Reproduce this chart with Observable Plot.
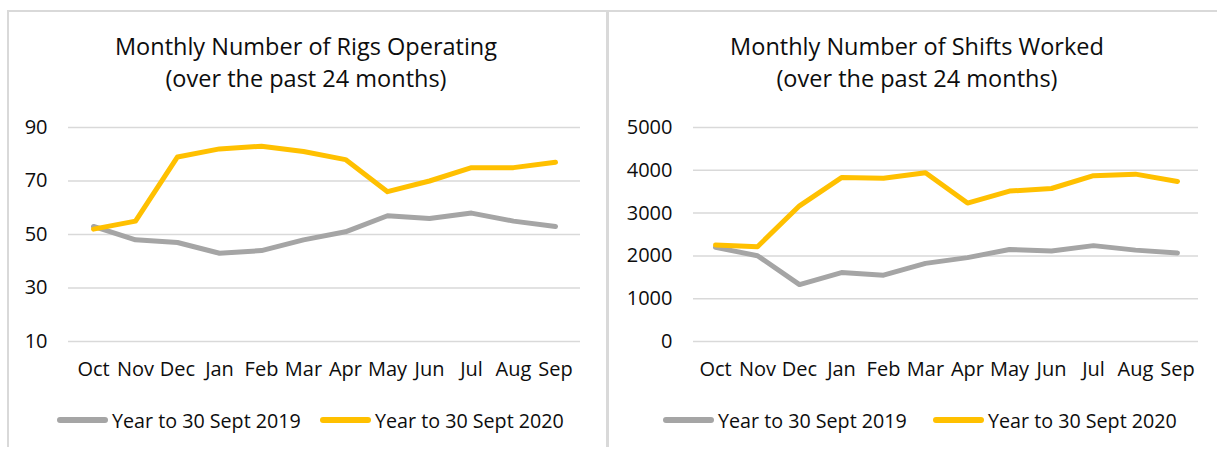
<!DOCTYPE html>
<html>
<head>
<meta charset="utf-8">
<script src="https://cdn.jsdelivr.net/npm/d3@7"></script>
<script src="https://cdn.jsdelivr.net/npm/@observablehq/plot@0.6"></script>
<style>
  html, body { margin: 0; padding: 0; background: #fff; }
  body { width: 1217px; height: 449px; position: relative; overflow: hidden; font-family: "Open Sans", sans-serif; color: #0d0d0d; }
  .border { position: absolute; background: #d9d9d9; }
  .title { position: absolute; width: 520px; text-align: center; font-size: 23.5px; line-height: 32px; color: #0d0d0d; white-space: nowrap; }
  .leg { position: absolute; top: 407px; height: 26px; display: flex; align-items: center; font-size: 19.7px; color: #0d0d0d; white-space: nowrap; }
  .sw { width: 51px; height: 5.5px; border-radius: 3px; margin-right: 4px; }
</style>
</head>
<body>
<script>
const months = ["Oct","Nov","Dec","Jan","Feb","Mar","Apr","May","Jun","Jul","Aug","Sep"];
const seriesNames = ["Year to 30 Sept 2019", "Year to 30 Sept 2020"];
const seriesColors = ["#a5a5a5", "#ffc000"];

const rigs2019 = [53, 48, 47, 43, 44, 48, 51, 57, 56, 58, 55, 53];
const rigs2020 = [52, 55, 79, 82, 83, 81, 78, 66, 70, 75, 75, 77];
const rigTicks = [10, 30, 50, 70, 90];

const shifts2019 = [2200, 2005, 1330, 1610, 1550, 1825, 1960, 2150, 2115, 2240, 2135, 2070];
const shifts2020 = [2255, 2215, 3170, 3830, 3815, 3945, 3235, 3515, 3575, 3875, 3910, 3740];
const shiftTicks = [0, 1000, 2000, 3000, 4000, 5000];

const titles = [
  ["Monthly Number of Rigs Operating", "(over the past 24 months)"],
  ["Monthly Number of Shifts Worked", "(over the past 24 months)"]
];

const body = document.body;

function addDiv(cls, style, html) {
  const d = document.createElement("div");
  d.className = cls;
  Object.assign(d.style, style);
  if (html != null) d.innerHTML = html;
  body.appendChild(d);
  return d;
}

// panel borders
addDiv("border", {left: "7px", top: "10px", width: "1210px", height: "2px"});
addDiv("border", {left: "7px", top: "10px", width: "2px", height: "437px"});
addDiv("border", {left: "606px", top: "10px", width: "3px", height: "437px"});

function chart(s19, s20, ticks, width, marginLeft, marginRight) {
  const rows = [];
  months.forEach((m, i) => rows.push({month: m, value: s19[i], series: seriesNames[0]}));
  months.forEach((m, i) => rows.push({month: m, value: s20[i], series: seriesNames[1]}));
  return Plot.plot({
    width,
    height: 449,
    marginTop: 127,
    marginBottom: 108,
    marginLeft,
    marginRight,
    style: {fontFamily: "Open Sans, sans-serif", fontSize: "20px", color: "#0d0d0d", background: "transparent", overflow: "visible"},
    x: {type: "point", domain: months, padding: 0.5, align: 0.5},
    y: {domain: [ticks[0], ticks[ticks.length - 1]]},
    color: {domain: seriesNames, range: seriesColors},
    marks: [
      Plot.ruleY(ticks, {stroke: "#d9d9d9", strokeWidth: 1.5}),
      Plot.axisY(ticks, {tickSize: 0, tickPadding: 21, label: null, fontSize: 20, tickFormat: d => String(d)}),
      Plot.axisX({tickSize: 0, tickPadding: 20, label: null, fontSize: 20}),
      Plot.line(rows, {x: "month", y: "value", z: "series", stroke: "series", strokeWidth: 5, strokeLinecap: "round", strokeLinejoin: "round"})
    ]
  });
}

const left = chart(rigs2019, rigs2020, rigTicks, 605, 68, 25);
left.style.position = "absolute"; left.style.left = "0px"; left.style.top = "0px";
body.appendChild(left);

const right = chart(shifts2019, shifts2020, shiftTicks, 612, 88, 19);
right.style.position = "absolute"; right.style.left = "605px"; right.style.top = "0px";
body.appendChild(right);

// titles
addDiv("title", {left: (306 - 260) + "px", top: "30px"}, titles[0].join("<br>"));
addDiv("title", {left: (917 - 260) + "px", top: "30px"}, titles[1].join("<br>"));

// legends
function legendItem(x, i) {
  addDiv("leg", {left: x + "px"}, `<div class="sw" style="background:${seriesColors[i]}"></div><span>${seriesNames[i]}</span>`);
}
legendItem(57, 0); legendItem(320, 1);
legendItem(663, 0); legendItem(933, 1);
</script>
</body>
</html>
